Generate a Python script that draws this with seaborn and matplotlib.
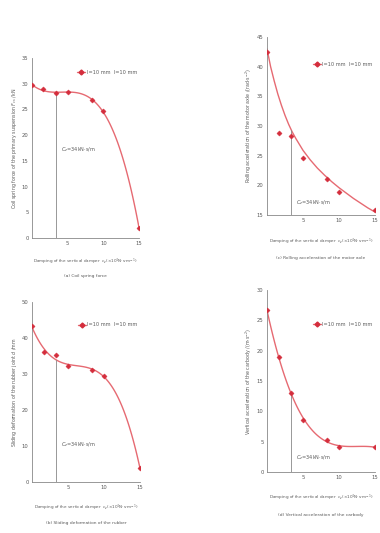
import numpy as np
import pandas as pd
import matplotlib
matplotlib.use("Agg")
import matplotlib.pyplot as plt
import seaborn as sns
from matplotlib.lines import Line2D

# ---- data ----
damping = [0.0, 1.6, 3.4, 5.0, 8.4, 10.0, 15.0]
coil_force = [29.7, 28.9, 28.2, 28.4, 26.8, 24.6, 2.0]
sliding_def = [43.3, 36.2, 35.2, 32.1, 31.1, 29.4, 3.8]
rolling_acc = [42.5, 28.8, 28.3, 24.6, 21.0, 18.8, 15.8]
vertical_acc = [26.7, 18.9, 13.1, 8.6, 5.3, 4.1, 4.1]

# fitted curve of panel (c)
rolling_fit_x = [0, 0.5, 1, 1.5, 2, 2.5, 3, 3.5, 4, 5, 6, 7, 8, 9, 10, 11, 12, 13, 14, 15]
rolling_fit_y = [43.0, 40.0, 37.6, 35.4, 33.5, 31.8, 30.3, 29.0, 27.9, 25.9, 24.3, 22.9,
                 21.7, 20.6, 19.6, 18.7, 17.8, 17.0, 16.2, 15.5]

cz_value = 3.4
x_ticks = [5, 10, 15]

legend_text = "l=10 mm  l=10 mm"
cz_text = "$C_z$=34kN·s/m"
xlabel_text = "Damping of the vertical damper  $c_z$(×10$^4$N·s·m$^{-1}$)"

sns.set_theme(style="white")
plt.rcParams["font.family"] = ["DejaVu Sans"]

W, H = 380, 533
fig = plt.figure(figsize=(W / 100, H / 100), dpi=100)

LINE = "#e66a72"
MARK = "#d42d3c"
TXT = "#5a5a5a"

panels = [
    dict(v=coil_force, ylim=(0, 35), ystep=5,
         ylabel="Coil spring force of the primary suspension $F_{cs}$ /kN",
         cap="(a) Coil spring force",
         fit=None, box=(32, 139, 58, 238), xl=262, cy=276, leg=(0.40, 0.95), czy=150),
    dict(v=rolling_acc, ylim=(15, 45), ystep=5,
         ylabel="Rolling acceleration of the motor axle /(rad·s$^{-2}$)",
         cap="(c) Rolling acceleration of the motor axle",
         fit=(rolling_fit_x, rolling_fit_y), box=(267, 375, 37, 215), xl=242, cy=258,
         leg=(0.40, 0.875), czy=203),
    dict(v=sliding_def, ylim=(0, 50), ystep=10,
         ylabel="Sliding deformation of the rubber joint $d$ /mm",
         cap="(b) Sliding deformation of the rubber",
         fit=None, box=(32, 140, 302, 482), xl=508, cy=523, leg=(0.40, 0.90), czy=445),
    dict(v=vertical_acc, ylim=(0, 30), ystep=5,
         ylabel="Vertical acceleration of the carbody /(m·s$^{-2}$)",
         cap="(d) Vertical acceleration of the carbody",
         fit=None, box=(267, 375, 290, 472), xl=498, cy=515, leg=(0.40, 0.84), czy=458),
]

for p in panels:
    l, r, t, b = p["box"]
    ax = fig.add_axes([l / W, 1 - b / H, (r - l) / W, (b - t) / H])
    df = pd.DataFrame({"c": damping, "y": p["v"]})
    if p["fit"] is None:
        sns.regplot(data=df, x="c", y="y", order=3, ci=None, scatter=False,
                    ax=ax, line_kws=dict(color=LINE, lw=1.0))
        coef = np.polyfit(damping, p["v"], 3)
        ytop = np.polyval(coef, cz_value)
    else:
        fx, fy = p["fit"]
        sns.lineplot(x=fx, y=fy, ax=ax, color=LINE, lw=1.0)
        ytop = float(np.interp(cz_value, fx, fy))
    sns.scatterplot(data=df, x="c", y="y", ax=ax, marker="D", s=7, color=MARK,
                    edgecolor=MARK, linewidth=0.3, zorder=5)
    ax.plot([cz_value, cz_value], [p["ylim"][0], ytop], color="#888888", lw=0.6)
    ax.text(cz_value + 0.6, p["ylim"][0] + (p["ylim"][1] - p["ylim"][0]) * (b - p["czy"]) / (b - t),
            cz_text, fontsize=3.6, color=TXT, va="center", ha="left")
    ax.set_xlim(0, 15)
    ax.set_ylim(*p["ylim"])
    ax.set_xticks(x_ticks)
    ax.set_yticks(np.arange(p["ylim"][0], p["ylim"][1] + 0.1, p["ystep"]))
    ax.tick_params(axis="both", labelsize=3.8, colors=TXT, length=1.5, width=0.4, pad=1)
    ax.set_xlabel("")
    ax.set_ylabel(p["ylabel"], fontsize=3.4, color=TXT)
    ax.yaxis.set_label_coords(-0.12, 0.5)
    for s in ["top", "right"]:
        ax.spines[s].set_visible(False)
    for s in ["left", "bottom"]:
        ax.spines[s].set_color("#888888")
        ax.spines[s].set_linewidth(0.6)
    ax.patch.set_alpha(0)
    handle = Line2D([], [], color=LINE, lw=1.0, marker="D", markersize=2.5,
                    markerfacecolor=MARK, markeredgecolor=MARK)
    ax.legend([handle], [legend_text], loc="upper left", bbox_to_anchor=p["leg"],
              frameon=False, fontsize=3.6, handlelength=1.6, handletextpad=0.3,
              borderpad=0, labelcolor=TXT)
    cx = (l + r) / 2 / W
    fig.text(cx, 1 - p["xl"] / H, xlabel_text, fontsize=3.0, color=TXT,
             ha="center", va="center")
    fig.text(cx, 1 - p["cy"] / H, p["cap"], fontsize=3.2, color=TXT,
             ha="center", va="center")

fig.savefig("out.png", dpi=100, facecolor="white")
